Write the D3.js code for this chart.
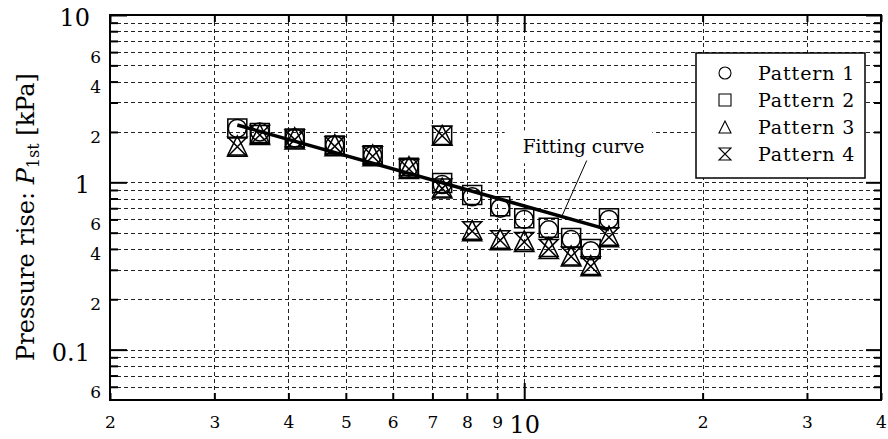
<!DOCTYPE html>
<html>
<head>
<meta charset="utf-8">
<script src="https://cdn.jsdelivr.net/npm/d3@7"></script>
<style>
  html, body { margin: 0; padding: 0; background: #fff; }
  svg { display: block; font-family: "DejaVu Serif", "Liberation Serif", serif; }
</style>
</head>
<body>
<svg id="chart" width="888" height="439"></svg>
<script>
// Inlet velocity ratio (log) vs first pressure rise (log)
const xValues = [3.28, 3.58, 4.10, 4.79, 5.55, 6.39, 7.27, 7.27, 8.17, 9.11, 10.0, 11.0, 12.0, 12.95, 13.9];
const pattern1 = [2.10, 2.00, 1.84, 1.67, 1.45, 1.23, null, 0.97, 0.82, 0.70, 0.60, 0.52, 0.455, 0.39, 0.60];
const pattern2 = [2.10, 1.97, 1.83, 1.66, 1.45, 1.22, 1.90, 0.99, 0.84, 0.72, 0.61, 0.535, 0.465, 0.40, 0.61];
const pattern3 = [1.66, 1.95, 1.86, 1.69, 1.47, 1.25, 1.92, 0.93, 0.52, 0.46, 0.45, 0.41, 0.365, 0.32, 0.48];
const pattern4 = [1.63, 1.92, 1.80, 1.64, 1.43, 1.20, 1.90, 0.92, 0.51, 0.45, 0.44, 0.40, 0.36, 0.315, 0.47];

const seriesNames = ["Pattern 1", "Pattern 2", "Pattern 3", "Pattern 4"];
const seriesShapes = ["circle", "square", "triangle", "hourglass"];

// Fitted power-law line end points
const fitX = [3.28, 13.9];
const fitY = [2.2, 0.52];

// Axis ticks and labels
const xTickValues = [2, 3, 4, 5, 6, 7, 8, 9, 10, 20, 30, 40];
const xTickLabels = ["2", "3", "4", "5", "6", "7", "8", "9", "10", "2", "3", "4"];
const xMajor = [10];
const yTickValues = [0.06, 0.07, 0.08, 0.09, 0.1, 0.2, 0.3, 0.4, 0.5, 0.6, 0.7, 0.8, 0.9,
                     1, 2, 3, 4, 5, 6, 7, 8, 9, 10];
const yTickLabels = ["6", "", "", "", "0.1", "2", "", "4", "", "6", "", "", "",
                     "1", "2", "", "4", "", "6", "", "", "", "10"];
const yMajor = [0.1, 1, 10];
const xGrid = [3, 4, 5, 6, 7, 8, 9, 10, 20, 30];
const yGrid = [0.06, 0.07, 0.08, 0.09, 0.1, 0.2, 0.3, 0.4, 0.5, 0.6, 0.7, 0.8, 0.9,
               1, 2, 3, 4, 5, 6, 7, 8, 9];

// Annotation anchor (data coordinates)
const annotText = "Fitting curve";
const annotAt = [9.94, 1.49];
const annotFrom = [12.75, 1.35];
const annotToX = 11.57;

const FONT = '"DejaVu Serif", "Liberation Serif", serif';
const svg = d3.select("#chart");
const W = 888, H = 439;
const m = { left: 110, top: 15, right: 7, bottom: 39 };

const x = d3.scaleLog().domain([2, 40]).range([m.left, W - m.right]);
const y = d3.scaleLog().domain([0.05, 10]).range([H - m.bottom, m.top]);
const x0 = x.range()[0], x1 = x.range()[1], y0 = y.range()[0], y1 = y.range()[1];

// Grid
const grid = svg.append("g").attr("stroke", "#222").attr("stroke-width", 1)
  .attr("stroke-dasharray", "4,3").attr("fill", "none");
grid.selectAll("line.v").data(xGrid).join("line").attr("class", "v")
  .attr("x1", d => Math.round(x(d)) + 0.5).attr("x2", d => Math.round(x(d)) + 0.5)
  .attr("y1", y1).attr("y2", y0);
grid.selectAll("line.h").data(yGrid).join("line").attr("class", "h")
  .attr("y1", d => Math.round(y(d)) + 0.5).attr("y2", d => Math.round(y(d)) + 0.5)
  .attr("x1", x0).attr("x2", x1);

// Axes (ticks pointing inward)
const fmtX = d => xTickLabels[xTickValues.indexOf(d)];
const fmtY = d => yTickLabels[yTickValues.indexOf(d)];
const isMajX = d => xMajor.includes(d);
const isMajY = d => yMajor.some(v => Math.abs(v - d) < 1e-9);

function styleAxis(g) {
  g.attr("font-family", FONT);
  g.select(".domain").remove();
  g.selectAll(".tick line").attr("stroke", "#000").attr("stroke-width", 2);
}

const gB = svg.append("g").attr("transform", `translate(0,${y0})`)
  .call(d3.axisBottom(x).tickValues(xTickValues).tickFormat(fmtX).tickSizeInner(-7).tickPadding(0));
styleAxis(gB);
gB.selectAll(".tick line").attr("y2", d => isMajX(d) ? -17 : -7);
gB.selectAll(".tick text").attr("fill", "#000").attr("dy", null)
  .attr("y", d => isMajX(d) ? 33 : 28)
  .style("font-size", d => isMajX(d) ? "24px" : "17px");

const gT = svg.append("g").attr("transform", `translate(0,${y1})`)
  .call(d3.axisTop(x).tickValues(xTickValues).tickFormat("").tickSizeInner(-7));
styleAxis(gT);
gT.selectAll(".tick line").attr("y2", d => isMajX(d) ? 17 : 7);

const gL = svg.append("g").attr("transform", `translate(${x0},0)`)
  .call(d3.axisLeft(y).tickValues(yTickValues).tickFormat(fmtY).tickSizeInner(-8).tickPadding(0));
styleAxis(gL);
gL.selectAll(".tick line").attr("x2", d => isMajY(d) ? 17 : 8);
gL.selectAll(".tick text").attr("fill", "#000").attr("dy", null)
  .attr("y", 10.5)
  .attr("x", d => isMajY(d) ? -20 : -9)
  .attr("text-anchor", "end")
  .style("font-size", d => isMajY(d) ? "24px" : "17px");

const gR = svg.append("g").attr("transform", `translate(${x1},0)`)
  .call(d3.axisRight(y).tickValues(yTickValues).tickFormat("").tickSizeInner(-7));
styleAxis(gR);
gR.selectAll(".tick line").attr("x2", d => isMajY(d) ? -15 : -7);

// Frame
svg.append("rect").attr("x", x0).attr("y", y1).attr("width", x1 - x0).attr("height", y0 - y1)
  .attr("fill", "none").attr("stroke", "#000").attr("stroke-width", 2);

// Marker shapes
function shapePath(kind, s) {
  switch (kind) {
    case "circle": return `M${s},0A${s},${s} 0 1,1 ${-s},0A${s},${s} 0 1,1 ${s},0Z`;
    case "square": return `M${-s},${-s}H${s}V${s}H${-s}Z`;
    case "triangle": return `M0,${-s}L${s},${s}H${-s}Z`;
    case "hourglass": return `M${-s},${-s}H${s}L${-s},${s}H${s}Z`;
  }
}
const markerSize = { circle: 9, square: 9.5, triangle: 9.5, hourglass: 9.5 };

const allSeries = [pattern1, pattern2, pattern3, pattern4];
allSeries.forEach((vals, i) => {
  const pts = xValues.map((xv, j) => [xv, vals[j]]).filter(p => p[1] != null);
  const kind = seriesShapes[i];
  svg.append("g").selectAll("path").data(pts).join("path")
    .attr("transform", d => `translate(${x(d[0])},${y(d[1])})`)
    .attr("d", shapePath(kind, markerSize[kind]))
    .attr("fill", "none").attr("stroke", "#000").attr("stroke-width", 1.5);
});

// Fitting curve
svg.append("path")
  .datum(fitX.map((v, i) => [v, fitY[i]]))
  .attr("d", d3.line().x(d => x(d[0])).y(d => y(d[1])))
  .attr("fill", "none").attr("stroke", "#000").attr("stroke-width", 3.5);

// Annotation with white background
const annG = svg.append("g");
const bgRect = annG.append("rect").attr("fill", "#fff");
const annT = annG.append("text")
  .attr("x", x(annotAt[0])).attr("y", y(annotAt[1]))
  .style("font-size", "18.5px").attr("fill", "#000").text(annotText);
const bb = annT.node().getBBox();
bgRect.attr("x", bb.x - 18).attr("y", bb.y - 6).attr("width", bb.width + 26).attr("height", bb.height + 12);
const fitAt = xv => Math.exp(d3.scaleLinear().domain(fitX.map(Math.log)).range(fitY.map(Math.log))(Math.log(xv)));
svg.append("line")
  .attr("x1", x(annotFrom[0])).attr("y1", y(annotFrom[1]))
  .attr("x2", x(annotToX)).attr("y2", y(fitAt(annotToX)))
  .attr("stroke", "#000").attr("stroke-width", 1);

// Legend
const lg = svg.append("g").attr("transform", "translate(696,53)");
lg.append("rect").attr("width", 169).attr("height", 125)
  .attr("fill", "#fff").attr("stroke", "#000").attr("stroke-width", 1.5);
seriesNames.forEach((name, i) => {
  const row = lg.append("g").attr("transform", `translate(0,${20 + i * 27})`);
  row.append("path").attr("transform", "translate(29,0)")
    .attr("d", shapePath(seriesShapes[i], 6))
    .attr("fill", "none").attr("stroke", "#000").attr("stroke-width", 1.1);
  row.append("text").attr("x", 62).attr("y", 6.5)
    .style("font-size", "19px").style("letter-spacing", "0.9px").attr("fill", "#000").text(name);
});

// Y axis title
const yt = svg.append("text")
  .attr("transform", `translate(34,217) rotate(-90)`)
  .attr("text-anchor", "middle").style("font-size", "24px").attr("fill", "#000");
yt.append("tspan").text("Pressure rise: ");
yt.append("tspan").style("font-style", "italic").text("P");
yt.append("tspan").attr("dy", 5).style("font-size", "16px").text("1st");
yt.append("tspan").attr("dy", -5).text(" [kPa]");
</script>
</body>
</html>
